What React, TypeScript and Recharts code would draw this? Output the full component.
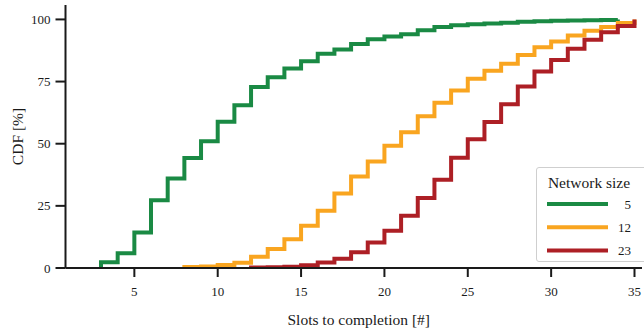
import React from 'react';
import { LineChart, Line, XAxis, YAxis } from 'recharts';

// Slots to completion (integer steps) and empirical CDF [%] per network size
const slots5 = [3, 4, 5, 6, 7, 8, 9, 10, 11, 12, 13, 14, 15, 16, 17, 18, 19, 20, 21, 22, 23, 24, 25, 26, 27, 28, 29, 30, 31, 32, 33, 34];
const cdf5 = [2.3, 5.9, 14.3, 27.3, 36, 44.3, 51, 58.8, 65.5, 72.8, 76.7, 80.3, 83.2, 86.2, 87.9, 90.1, 92, 93.1, 94, 95.6, 96.9, 97.7, 98.1, 98.4, 98.7, 99.1, 99.3, 99.5, 99.6, 99.7, 99.8, 100];

const slots12 = [8, 9, 10, 11, 12, 13, 14, 15, 16, 17, 18, 19, 20, 21, 22, 23, 24, 25, 26, 27, 28, 29, 30, 31, 32, 33, 34, 35];
const cdf12 = [0.4, 0.6, 1.2, 2.1, 4.5, 7.6, 11.6, 17, 23, 30, 36.8, 42.8, 49.2, 54.6, 61, 66.5, 71.4, 76.1, 79.3, 82.2, 85.7, 88.8, 91.1, 93.5, 95.4, 96.9, 98.6, 100];

const slots23 = [12, 13, 14, 15, 16, 17, 18, 19, 20, 21, 22, 23, 24, 25, 26, 27, 28, 29, 30, 31, 32, 33, 34, 35];
const cdf23 = [0.2, 0.3, 0.5, 1.1, 2.2, 3.7, 6.3, 10.3, 15, 21, 28.2, 35.5, 44.4, 51.8, 58.7, 65.9, 73, 79, 83.7, 88.2, 91.8, 94.8, 97.4, 100];

const seriesNames = ['5', '12', '23'];
const seriesColors = ['#1a8a44', '#f9a520', '#ad1f25'];

const xTicks = [5, 10, 15, 20, 25, 30, 35];
const yTicks = [0, 25, 50, 75, 100];

const build = (xs: number[], ys: number[]) => [
  { x: xs[0], y: 0 },
  ...xs.map((x, i) => ({ x, y: ys[i] })),
];

const series = [
  build(slots5, cdf5),
  build(slots12, cdf12),
  build(slots23, cdf23),
];

const FONT = '"Liberation Serif", "DejaVu Serif", serif';
const INK = '#1a1a1a';

const LegendBox = () => (
  <div
    style={{
      position: 'absolute',
      left: 536,
      top: 167,
      width: 116,
      height: 95,
      boxSizing: 'border-box',
      border: '1.5px solid #cfcfcf',
      borderRadius: 3,
      background: '#fff',
    }}
  >
    <svg width={116} height={92} style={{ display: 'block' }}>
      <text x={52} y={20} textAnchor="middle" fontFamily={FONT} fontSize={15.5} fill={INK}>
        Network size
      </text>
      {seriesNames.map((n, i) => {
        const cy = 36 + i * 23.2;
        return (
          <g key={n}>
            <line x1={10} x2={71} y1={cy} y2={cy} stroke={seriesColors[i]} strokeWidth={4} />
            <text x={94} y={cy + 4.5} textAnchor="end" fontFamily={FONT} fontSize={13} fill={INK}>
              {n}
            </text>
          </g>
        );
      })}
    </svg>
  </div>
);

export default function App() {
  return (
    <div style={{ position: 'absolute', left: 0, top: 0, width: 644, height: 333, overflow: 'hidden', background: '#fff' }}>
      <LineChart width={644} height={333} margin={{ top: 5, right: 2, bottom: 0, left: 0 }}>
        <XAxis
          type="number"
          dataKey="x"
          domain={[0.87, 35.45]}
          allowDataOverflow
          ticks={xTicks}
          height={65}
          tickSize={9}
          tickMargin={10}
          axisLine={{ stroke: INK, strokeWidth: 2 }}
          tickLine={{ stroke: INK, strokeWidth: 2 }}
          tick={{ fill: INK, fontSize: 13, fontFamily: FONT }}
          label={{
            content: (props: any) => {
              const vb = props.viewBox || {};
              return (
                <text
                  x={vb.x + vb.width / 2 + 5}
                  y={vb.y + vb.height - 8}
                  textAnchor="middle"
                  fontFamily={FONT}
                  fontSize={15.5}
                  fill={INK}
                >
                  Slots to completion [#]
                </text>
              );
            },
          }}
        />
        <YAxis
          type="number"
          domain={[0, 105.8]}
          allowDataOverflow
          ticks={yTicks}
          width={65.5}
          tickSize={10}
          tickMargin={5}
          axisLine={{ stroke: INK, strokeWidth: 2 }}
          tickLine={{ stroke: INK, strokeWidth: 2 }}
          tick={{ fill: INK, fontSize: 13, fontFamily: FONT }}
          label={{
            content: (props: any) => {
              const vb = props.viewBox || {};
              const cx = vb.x + 17;
              const cy = vb.y + vb.height / 2;
              return (
                <text
                  x={cx}
                  y={cy}
                  transform={`rotate(-90 ${cx} ${cy})`}
                  textAnchor="middle"
                  dominantBaseline="central"
                  fontFamily={FONT}
                  fontSize={15.5}
                  fill={INK}
                >
                  CDF [%]
                </text>
              );
            },
          }}
        />
        {series.map((d, i) => (
          <Line
            key={seriesNames[i]}
            data={d}
            dataKey="y"
            type="stepAfter"
            stroke={seriesColors[i]}
            strokeWidth={4}
            strokeLinejoin="miter"
            strokeLinecap="butt"
            dot={false}
            activeDot={false}
            isAnimationActive={false}
            name={seriesNames[i]}
          />
        ))}
      </LineChart>
      <LegendBox />
    </div>
  );
}
